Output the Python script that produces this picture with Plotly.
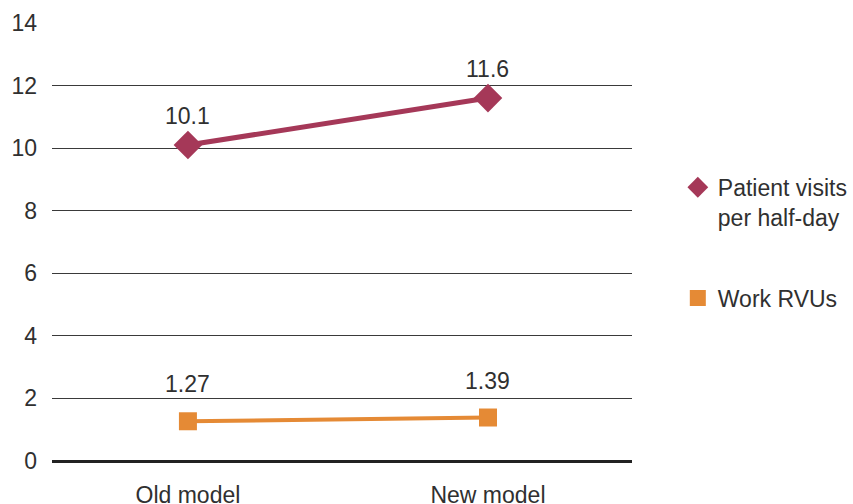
import plotly.graph_objects as go

categories = ["Old model", "New model"]
visits = [10.1, 11.6]
rvus = [1.27, 1.39]
visits_labels = ["10.1", "11.6"]
rvus_labels = ["1.27", "1.39"]
y_ticks = [0, 2, 4, 6, 8, 10, 12, 14]

crimson = "#A53858"
orange = "#E58A35"
font_family = "'Liberation Sans', Arial, sans-serif"
txt_color = "#303030"
fs = 23

fig = go.Figure()
fig.add_trace(go.Scatter(
    x=categories, y=visits, mode="lines+markers",
    line=dict(color=crimson, width=5),
    marker=dict(symbol="diamond", size=22, color=crimson),
    showlegend=False, cliponaxis=False,
))
fig.add_trace(go.Scatter(
    x=categories, y=rvus, mode="lines+markers",
    line=dict(color=orange, width=4),
    marker=dict(symbol="square", size=18, color=orange),
    showlegend=False, cliponaxis=False,
))
# legend-only entries (markers without lines)
fig.add_trace(go.Scatter(
    x=[None], y=[None], mode="markers", name="Patient visits<br>per half-day",
    marker=dict(symbol="diamond", size=22, color=crimson), legendgroup="a",
))
fig.add_trace(go.Scatter(
    x=[None], y=[None], mode="markers", name="Work RVUs",
    marker=dict(symbol="square", size=18, color=orange), legendgroup="b",
))

annotations = []
for c, v, t in zip(categories, visits, visits_labels):
    annotations.append(dict(x=c, y=v, text=t, showarrow=False, yshift=29,
                            font=dict(size=fs, color=txt_color, family=font_family)))
for c, v, t in zip(categories, rvus, rvus_labels):
    annotations.append(dict(x=c, y=v, text=t, showarrow=False, yshift=37,
                            font=dict(size=fs, color=txt_color, family=font_family)))

fig.update_layout(
    width=853, height=504,
    margin=dict(l=52, r=221, t=23, b=43, autoexpand=False),
    paper_bgcolor="white", plot_bgcolor="white",
    font=dict(family=font_family, size=fs, color=txt_color),
    legend=dict(x=1.079, y=0.674, xanchor="left", yanchor="top", valign="top",
                tracegroupgap=48, font=dict(size=fs, color=txt_color),
                itemsizing="trace", bgcolor="rgba(0,0,0,0)"),
    annotations=annotations,
)
fig.update_xaxes(
    type="category", range=[-0.453, 1.48], automargin=False,
    showgrid=False, zeroline=False, showline=False,
    ticks="", ticklabelstandoff=18,
    tickfont=dict(size=fs, color=txt_color),
)
fig.update_yaxes(
    range=[0, 14], tickvals=y_ticks, automargin=False,
    showgrid=True, gridcolor="#3a3a3a", gridwidth=1,
    zeroline=True, zerolinecolor="#222222", zerolinewidth=3,
    showline=False, ticks="", ticklabelstandoff=14,
    tickfont=dict(size=fs, color=txt_color),
)

fig.write_html("out.html")
